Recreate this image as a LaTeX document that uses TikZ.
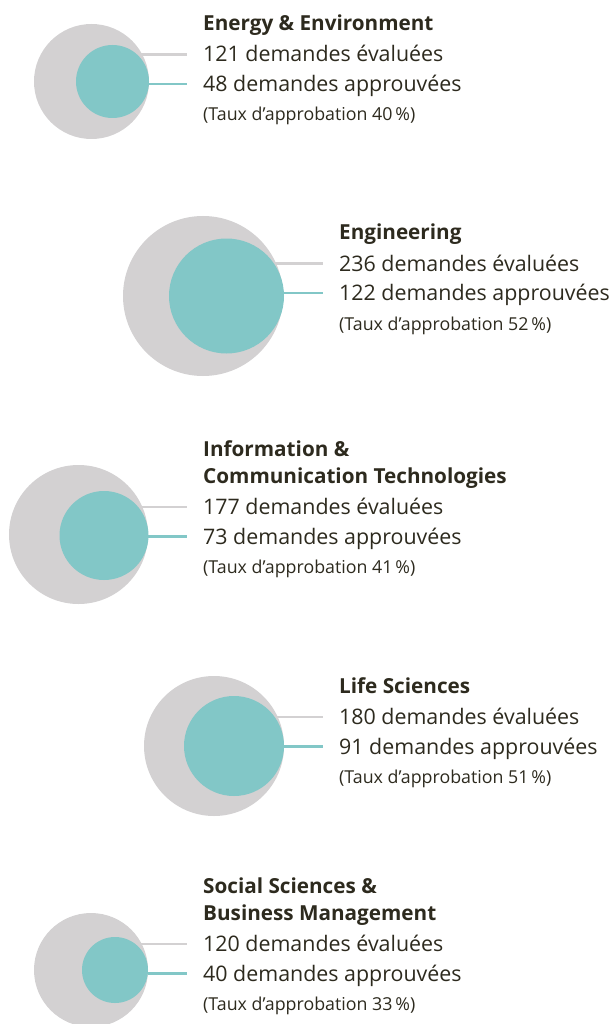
\documentclass[tikz,border=0pt]{standalone}
\usepackage{fontspec}
\setmainfont{Open Sans}
\usetikzlibrary{positioning,backgrounds}
\definecolor{greydisc}{RGB}{211,209,210}
\definecolor{tealdisc}{RGB}{130,199,199}
\definecolor{inktext}{RGB}{45,42,30}
\begin{document}
\begin{tikzpicture}[x=1pt,y=-1pt,
  disc/.style={circle,inner sep=0pt,minimum size=#1},
  gdisc/.style={disc=#1,fill=greydisc},
  tdisc/.style={disc=#1,fill=tealdisc},
  lbl/.style={anchor=base west,inner sep=0pt,text=inktext,font=\fontsize{21.4}{25}\selectfont},
  ttl/.style={lbl,font=\fontsize{20.7}{27}\selectfont\bfseries,align=left},
  rate/.style={lbl,font=\fontsize{17.8}{20}\selectfont},
  gline/.style={draw=greydisc,line width=2.6pt},
  tline/.style={draw=tealdisc,line width=2.6pt}]
\useasboundingbox (0,0) rectangle (609,1024);
% Energy & Environment
\node[gdisc=115pt] (g1) at (91.5,81.5) {};
\node[tdisc=73pt] (t1) at (112.5,81.5) {};
\node[lbl] (ev1) at (203,62) {121 demandes évaluées};
\node[lbl,below=29.5pt of ev1.base west,anchor=base west] (ap1) {48 demandes approuvées};
\node[rate,below=29.5pt of ap1.base west,anchor=base west] (tx1) {(Taux d’approbation 40\,\%)};
\node[ttl,above=31pt of ev1.base west,anchor=base west] (h1) {Energy \& Environment};
% Engineering
\node[gdisc=160pt] (g2) at (203,296) {};
\node[tdisc=115pt] (t2) at (226.5,296) {};
\node[lbl] (ev2) at (339,271) {236 demandes évaluées};
\node[lbl,below=29.5pt of ev2.base west,anchor=base west] (ap2) {122 demandes approuvées};
\node[rate,below=29.5pt of ap2.base west,anchor=base west] (tx2) {(Taux d’approbation 52\,\%)};
\node[ttl,above=31pt of ev2.base west,anchor=base west] (h2) {Engineering};
% Information & Communication Technologies
\node[gdisc=139pt] (g3) at (78.5,534.5) {};
\node[tdisc=89pt] (t3) at (104,535.5) {};
\node[lbl] (ev3) at (203,514.5) {177 demandes évaluées};
\node[lbl,below=29.5pt of ev3.base west,anchor=base west] (ap3) {73 demandes approuvées};
\node[rate,below=29.5pt of ap3.base west,anchor=base west] (tx3) {(Taux d’approbation 41\,\%)};
\node[ttl,above=31pt of ev3.base west,anchor=base west] (h3) {Information \&\\Communication Technologies};
% Life Sciences
\node[gdisc=140pt] (g4) at (214,746) {};
\node[tdisc=100pt] (t4) at (234,746) {};
\node[lbl] (ev4) at (339,724.5) {180 demandes évaluées};
\node[lbl,below=29.5pt of ev4.base west,anchor=base west] (ap4) {91 demandes approuvées};
\node[rate,below=29.5pt of ap4.base west,anchor=base west] (tx4) {(Taux d’approbation 51\,\%)};
\node[ttl,above=31pt of ev4.base west,anchor=base west] (h4) {Life Sciences};
% Social Sciences & Business Management
\node[gdisc=114pt] (g5) at (91,970) {};
\node[tdisc=66pt] (t5) at (115,970) {};
\node[lbl] (ev5) at (203,951.5) {120 demandes évaluées};
\node[lbl,below=29.5pt of ev5.base west,anchor=base west] (ap5) {40 demandes approuvées};
\node[rate,below=29.5pt of ap5.base west,anchor=base west] (tx5) {(Taux d’approbation 33\,\%)};
\node[ttl,above=31pt of ev5.base west,anchor=base west] (h5) {Social Sciences \&\\Business Management};
% free ends of the connectors
\foreach \i in {1,...,5}{
  \coordinate (ge\i) at ([xshift=-16pt,yshift=7.5pt]ev\i.base west);
  \coordinate (te\i) at ([xshift=-16pt,yshift=7.5pt]ap\i.base west);
}
\begin{scope}[on background layer]
\foreach \i in {1,...,5}{
  \draw[gline] (g\i |- ge\i) -- (ge\i);
  \draw[tline] (t\i |- te\i) -- (te\i);
}
\end{scope}
\end{tikzpicture}
\end{document}
